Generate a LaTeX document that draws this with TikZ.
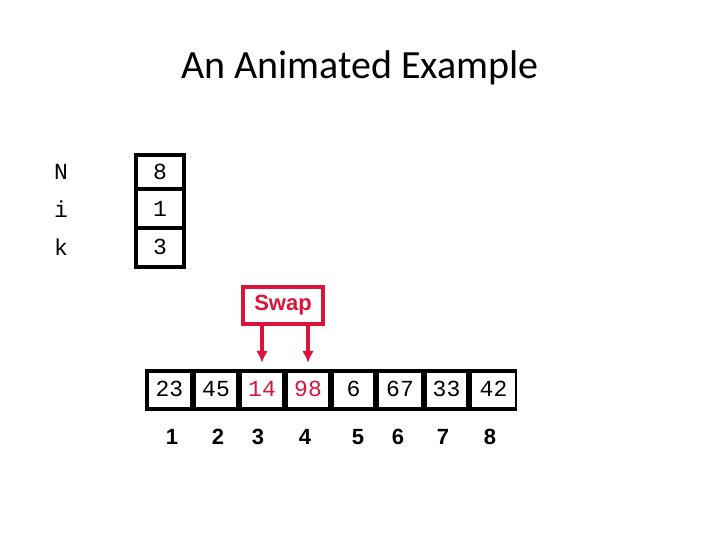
\documentclass[tikz,border=0pt]{standalone}
\usepackage{fontspec}
\usetikzlibrary{arrows.meta}
\setmainfont{Carlito}
\newfontfamily\monof{Liberation Mono}
\newfontfamily\sansf{Liberation Sans}
\definecolor{swapred}{RGB}{220,20,60}
\begin{document}
\begin{tikzpicture}[x=1pt,y=-1pt,
  mono/.style={font=\monof\fontsize{23}{25}\selectfont},
  idx/.style={font=\sansf\bfseries\fontsize{22}{24}\selectfont}]
\useasboundingbox (0,0) rectangle (720,540);
\node[font=\fontsize{40}{44}\selectfont] (title) at (360,68) {An Animated Example};
% variables
\foreach \n/\v/\y/\t/\b in {N/8/172/155/189, i/1/209/189/228, k/3/247/228/267}{
  \node[mono,anchor=center] (l\n) at (61,\y) {\n};
  \draw[line width=3.5pt] (136,\t) rectangle (184,\b);
  \node[mono] (v\n) at (160,\y) {\v};
}
% array
\fill[black] (145,369) rectangle (517,411);
\foreach \a/\b/\v/\c/\k in {145/192/23/black/1, 192/238/45/black/2, 238/284/14/swapred/3, 284/330/98/swapred/4, 330/375/6/black/5, 375/423/67/black/6, 423/468/33/black/7, 468/517/42/black/8}{
  \fill[white] (\a+4,373) rectangle (\b-2,407);
  \node[mono,text=\c] (c\k) at ({(\a+\b)/2+1},389) {\v};
}
\foreach \k/\x in {1/172,2/218,3/258,4/305,5/358,6/398,7/443,8/490}
  \node[idx] (i\k) at (\x,437) {\k};
% swap
\node[draw=swapred,line width=3.5pt,fill=white,minimum width=80pt,minimum height=37pt,text=swapred,font=\sansf\bfseries\fontsize{22}{24}\selectfont] (swap) at (283,305.5) {Swap};
\draw[swapred,line width=3.5pt,-{Latex[length=12pt,width=12pt]}] (swap.south -| c3.north) -- ++(0,37);
\draw[swapred,line width=3.5pt,-{Latex[length=12pt,width=12pt]}] (swap.south -| c4.north) -- ++(0,37);
\end{tikzpicture}
\end{document}
